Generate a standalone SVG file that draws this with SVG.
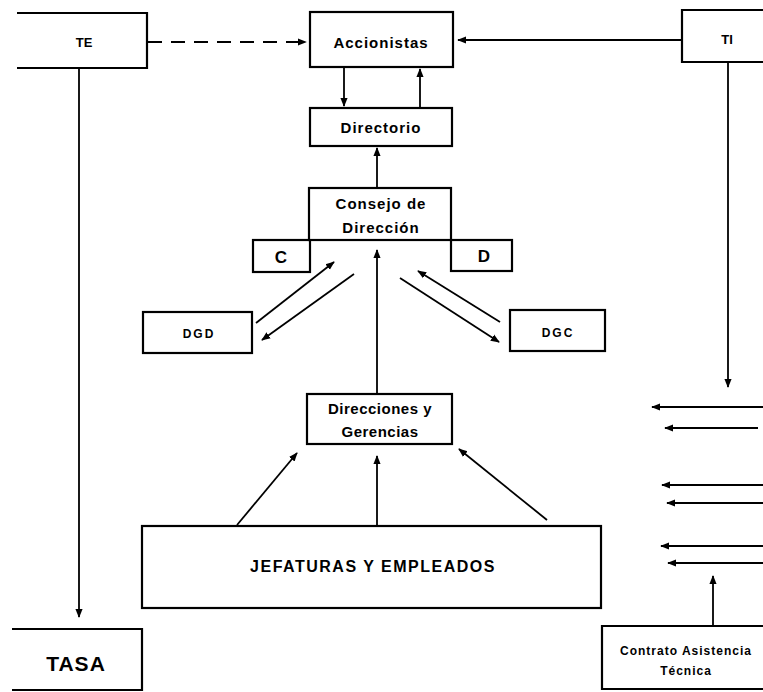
<svg xmlns="http://www.w3.org/2000/svg" width="763" height="692" viewBox="0 0 763 692">
<style>
.box{fill:#fff;stroke:#000;stroke-width:2.2}
.t{font-family:"Liberation Sans",Arial,sans-serif;font-weight:bold;fill:#000;text-anchor:middle}
.c{stroke:#000;stroke-width:1.8;fill:none;marker-end:url(#ah)}
</style>
<defs>
<marker id="ah" viewBox="0 0 10 10" refX="9" refY="5" markerWidth="5" markerHeight="5" orient="auto" markerUnits="strokeWidth">
<path d="M0,1 L10,5 L0,9 z" fill="#000"/>
</marker>
</defs>
<rect width="763" height="692" fill="#fff"/>
<g id="connectors">
<line class="c" x1="148" y1="42" x2="306" y2="42" stroke-dasharray="14,9"/>
<line class="c" x1="681" y1="40" x2="458" y2="40"/>
<line class="c" x1="344" y1="67" x2="344" y2="106"/>
<line class="c" x1="420" y1="107" x2="420" y2="69"/>
<line class="c" x1="377" y1="188" x2="377" y2="148"/>
<line class="c" x1="256" y1="323" x2="334" y2="262"/>
<line class="c" x1="354" y1="274" x2="262" y2="340"/>
<line class="c" x1="500" y1="322" x2="418" y2="271"/>
<line class="c" x1="400" y1="278" x2="499" y2="342"/>
<line class="c" x1="377" y1="393" x2="377" y2="250"/>
<line class="c" x1="237" y1="525" x2="297" y2="453"/>
<line class="c" x1="377" y1="526" x2="377" y2="456"/>
<line class="c" x1="547" y1="520" x2="459" y2="449"/>
<line class="c" x1="79" y1="68" x2="79" y2="617"/>
<line class="c" x1="728" y1="62" x2="728" y2="387"/>
<line class="c" x1="713" y1="626" x2="713" y2="576"/>
<line class="c" x1="763" y1="407" x2="652" y2="407"/>
<line class="c" x1="758" y1="428" x2="665" y2="428"/>
<line class="c" x1="763" y1="485" x2="662" y2="485"/>
<line class="c" x1="763" y1="503" x2="667" y2="503"/>
<line class="c" x1="763" y1="546" x2="661" y2="546"/>
<line class="c" x1="763" y1="563" x2="668" y2="563"/>
</g>
<g id="TE">
<path d="M17,13 H147 V68 H17" class="box"/>
<text class="t" x="84" y="47" font-size="13">TE</text>
</g>
<g id="Accionistas">
<rect class="box" x="310" y="12" width="143" height="55"/>
<text class="t" x="381" y="48" font-size="15" letter-spacing="1">Accionistas</text>
</g>
<g id="TI">
<path d="M765,10 H682 V62 H765" class="box"/>
<text class="t" x="727" y="44" font-size="13">TI</text>
</g>
<g id="Directorio">
<rect class="box" x="310" y="108" width="142" height="38"/>
<text class="t" x="381" y="133" font-size="15" letter-spacing="1">Directorio</text>
</g>
<g id="C">
<rect class="box" x="253" y="240" width="57" height="32"/>
<text class="t" x="281" y="263" font-size="17">C</text>
</g>
<g id="D">
<rect class="box" x="451" y="240" width="61" height="31"/>
<text class="t" x="484" y="262" font-size="17">D</text>
</g>
<g id="Consejo">
<rect class="box" x="309" y="188" width="142" height="52"/>
<text class="t" x="381" y="209" font-size="15" letter-spacing="1">Consejo de</text>
<text class="t" x="381" y="233" font-size="15" letter-spacing="1">Dirección</text>
</g>
<g id="DGD">
<rect class="box" x="143" y="312" width="109" height="41"/>
<text class="t" x="199" y="338" font-size="12" letter-spacing="2">DGD</text>
</g>
<g id="DGC">
<rect class="box" x="510" y="310" width="95" height="41"/>
<text class="t" x="558" y="337" font-size="12" letter-spacing="2">DGC</text>
</g>
<g id="Direcciones">
<rect class="box" x="307" y="394" width="145" height="50"/>
<text class="t" x="380" y="414" font-size="15" letter-spacing="0.5">Direcciones y</text>
<text class="t" x="380" y="437" font-size="15" letter-spacing="0.5">Gerencias</text>
</g>
<g id="Jefaturas">
<rect class="box" x="142" y="526" width="459" height="82"/>
<text class="t" x="373" y="572" font-size="16" letter-spacing="1.5">JEFATURAS Y EMPLEADOS</text>
</g>
<g id="TASA">
<path d="M12,629 H142 V690 H12" class="box"/>
<text class="t" x="76" y="671" font-size="21" letter-spacing="1">TASA</text>
</g>
<g id="Contrato">
<path d="M765,626 H602 V689 H765" class="box"/>
<text class="t" x="686" y="655" font-size="12" letter-spacing="1">Contrato Asistencia</text>
<text class="t" x="686" y="675" font-size="12" letter-spacing="1">Técnica</text>
</g>
</svg>
